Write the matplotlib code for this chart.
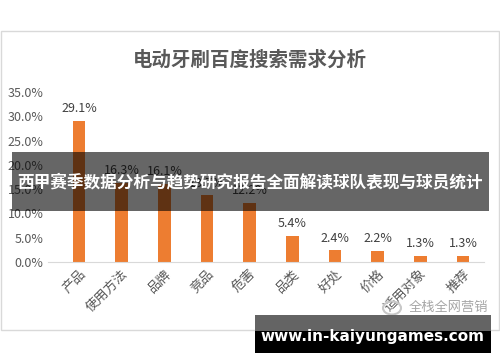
import matplotlib.pyplot as plt
from matplotlib.patches import Rectangle
from matplotlib.ticker import FuncFormatter

plt.rcParams['font.family'] = ['Noto Sans CJK SC', 'DejaVu Sans']

categories = ['产品', '使用方法', '品牌', '竞品', '危害', '品类', '好处', '价格', '适用对象', '推荐']
values = [29.1, 16.3, 16.1, 13.7, 12.2, 5.4, 2.4, 2.2, 1.3, 1.3]
title = '电动牙刷百度搜索需求分析'
banner = '西甲赛季数据分析与趋势研究报告全面解读球队表现与球员统计'
site = 'www.in-kaiyungames.com'
mark = '全栈全网营销'

W, H = 500, 362
fig = plt.figure(figsize=(W / 100, H / 100), dpi=100)


def fx(x):
    return x / W


def fy(y):
    return 1 - y / H


# chart frame
fig.patches.append(Rectangle((fx(1), fy(330)), fx(498), 299 / H, transform=fig.transFigure,
                             facecolor='white', edgecolor='#d9d9d9', lw=1, zorder=-5))

ax = fig.add_axes([fx(48.3), fy(262), fx(484 - 48.3), (262 - 92) / H])
ax.set_zorder(1)
x = range(len(categories))
ax.bar(x, values, width=0.3, color='#ed7d31', zorder=2)
for i, v in zip(x, values):
    ax.text(i, v + 1.2, f'{v:.1f}%', ha='center', va='bottom', fontsize=9, color='#404040')

ax.set_xlim(-0.72, 9.49)
ax.set_ylim(0, 35)
ax.set_yticks([0, 5, 10, 15, 20, 25, 30, 35])
ax.yaxis.set_major_formatter(FuncFormatter(lambda v, p: f'{v:.1f}%'))
ax.set_xticks(list(x))
ax.set_xticklabels(categories, rotation=45, ha='right', rotation_mode='anchor')
ax.tick_params(axis='both', length=0, labelsize=9, labelcolor='#595959')
ax.tick_params(axis='x', pad=4, labelsize=9.5)
for s in ['top', 'right', 'left']:
    ax.spines[s].set_visible(False)
ax.spines['bottom'].set_color('#d9d9d9')
ax.patch.set_alpha(0)

fig.text(0.5, fy(60), title, ha='center', va='center', fontsize=14, fontweight='bold', color='#595959')

# watermark
fig.text(fx(448), fy(308), mark, ha='center', va='center', fontsize=9.5, color='#a6a6a6')
fig.patches.append(plt.Circle((fx(392), fy(308)), 0.018, transform=fig.transFigure,
                              facecolor='none', edgecolor='#c8c8c8', lw=1.5, zorder=5))

# overlay banner
fig.patches.append(Rectangle((fx(12), fy(211)), fx(477), 59 / H, transform=fig.transFigure,
                             facecolor='black', alpha=0.6, zorder=10))
fig.text(fx(250), fy(182), banner, ha='center', va='center', fontsize=12,
         fontweight='bold', color='white', zorder=11)

# site banner
fig.patches.append(Rectangle((fx(255), fy(331)), fx(236), 16 / H, transform=fig.transFigure,
                             facecolor='#646464', zorder=10))
fig.patches.append(Rectangle((fx(255), fy(353)), fx(236), 22 / H, transform=fig.transFigure,
                             facecolor='black', zorder=10))
fig.text(fx(372), fy(337), site, ha='center', va='center', fontsize=11,
         fontweight='bold', color='white', family=['DejaVu Sans'], zorder=11)

fig.savefig('out.png', dpi=100)
